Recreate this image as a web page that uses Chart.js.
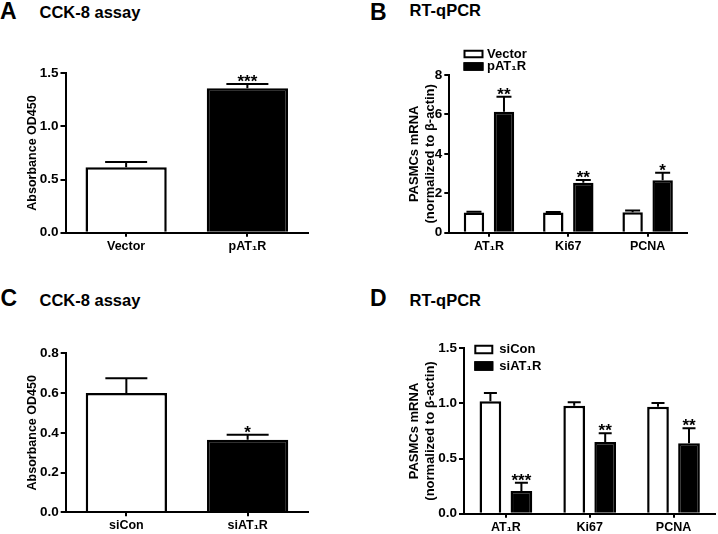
<!DOCTYPE html>
<html><head><meta charset="utf-8">
<script src="https://cdn.jsdelivr.net/npm/chart.js@4"></script>
<style>
html,body{margin:0;padding:0;background:#fff;}
body{width:718px;height:534px;position:relative;overflow:hidden;font-family:'Liberation Sans',Arial,sans-serif;}
canvas{position:absolute;}
.lbl{position:absolute;font-weight:bold;line-height:1;white-space:nowrap;color:#000;font-family:'Liberation Sans',Arial,sans-serif;}
</style></head><body>
<div class="lbl" style="left:0px;top:0px;font-size:23px">A</div>
<div class="lbl" style="left:39.5px;top:4.3px;font-size:16.5px">CCK-8 assay</div>
<div class="lbl" style="left:370px;top:0.5px;font-size:23px">B</div>
<div class="lbl" style="left:409.5px;top:2px;font-size:16.5px">RT-qPCR</div>
<div class="lbl" style="left:0.5px;top:286.8px;font-size:23px">C</div>
<div class="lbl" style="left:39.5px;top:292.3px;font-size:16.5px">CCK-8 assay</div>
<div class="lbl" style="left:370px;top:286.8px;font-size:23px">D</div>
<div class="lbl" style="left:409.5px;top:292.3px;font-size:16.5px">RT-qPCR</div>

<canvas id="cA" width="330" height="267" style="left:0px;top:0px"></canvas>
<canvas id="cB" width="358" height="267" style="left:360px;top:0px"></canvas>
<canvas id="cC" width="330" height="267" style="left:0px;top:267px"></canvas>
<canvas id="cD" width="358" height="267" style="left:360px;top:267px"></canvas>

<script>
// ---------- data ----------
const catsA = ['Vector', 'pAT\u2081R'];
const meanA = [0.615, 1.36];
const semA = [0.05, 0.04];
const sigA = ['', '***'];
const ticksA = [0, 0.5, 1.0, 1.5];

const catsB = ['AT\u2081R', 'Ki67', 'PCNA'];
const seriesB = ['Vector', 'pAT\u2081R'];
const vectorB = [1.03, 1.02, 1.04];
const vectorSemB = [0.03, 0.03, 0.08];
const pat1rB = [6.14, 2.54, 2.66];
const pat1rSemB = [0.76, 0.13, 0.38];
const sigB = ['**', '**', '*'];
const ticksB = [0, 2, 4, 6, 8];

const catsC = ['siCon', 'siAT\u2081R'];
const meanC = [0.60, 0.365];
const semC = [0.075, 0.025];
const sigC = ['', '*'];
const ticksC = [0, 0.2, 0.4, 0.6, 0.8];

const catsD = ['AT\u2081R', 'Ki67', 'PCNA'];
const seriesD = ['siCon', 'siAT\u2081R'];
const siConD = [1.02, 0.98, 0.97];
const siConSemD = [0.075, 0.03, 0.035];
const siAT1RD = [0.205, 0.65, 0.64];
const siAT1RSemD = [0.075, 0.08, 0.135];
const sigD = ['***', '**', '**'];
const ticksD = [0, 0.5, 1.0, 1.5];

const yTitleA = 'Absorbance OD450';
const yTitleB = ['PASMCs mRNA', '(normalized to \u03b2-actin)'];

// ---------- styling ----------
const FONT = "'Liberation Sans', Arial, sans-serif";
Chart.defaults.font.family = FONT;
Chart.defaults.font.weight = 'bold';
Chart.defaults.color = '#000';

const errorBarPlugin = {
  id: 'errorBars',
  afterDatasetsDraw(chart, args, o) {
    const ctx = chart.ctx, ys = chart.scales.y;
    chart.data.datasets.forEach((ds, di) => {
      if (!ds.err) return;
      const meta = chart.getDatasetMeta(di);
      meta.data.forEach((bar, i) => {
        const v = ds.data[i], e = ds.err[i];
        const yTop = ys.getPixelForValue(v);
        const yErr = ys.getPixelForValue(v + e);
        const cw = o.capWidth;
        ctx.save();
        ctx.strokeStyle = '#000';
        ctx.lineWidth = 2;
        ctx.beginPath();
        ctx.moveTo(bar.x, yTop); ctx.lineTo(bar.x, yErr);
        ctx.moveTo(bar.x - cw / 2, yErr); ctx.lineTo(bar.x + cw / 2, yErr);
        ctx.stroke();
        if (ds.sig && ds.sig[i]) {
          ctx.fillStyle = '#000';
          ctx.font = 'bold ' + o.starSize + 'px ' + FONT;
          ctx.textAlign = 'center';
          ctx.textBaseline = 'alphabetic';
          ctx.fillText(ds.sig[i], bar.x, yErr + o.starOffset);
        }
        ctx.restore();
      });
    });
  }
};

const boxLegendPlugin = {
  id: 'boxLegend',
  afterDraw(chart, args, o) {
    if (!o || !o.display) return;
    const ctx = chart.ctx;
    chart.data.datasets.forEach((ds, i) => {
      const cy = o.y + i * o.rowH;
      ctx.save();
      ctx.fillStyle = ds.backgroundColor;
      ctx.fillRect(o.x, cy - o.boxH / 2, o.boxW, o.boxH);
      ctx.lineWidth = 2;
      ctx.strokeStyle = '#000';
      ctx.strokeRect(o.x + 1, cy - o.boxH / 2 + 1, o.boxW - 2, o.boxH - 2);
      ctx.fillStyle = '#000';
      ctx.font = 'bold ' + o.fontSize + 'px ' + FONT;
      ctx.textAlign = 'left';
      ctx.textBaseline = 'middle';
      ctx.fillText(ds.label, o.x + o.boxW + o.gap, cy);
      ctx.restore();
    });
  }
};

function yScale(ticks, decimals, title, titleSize, titlePad, width) {
  return {
    type: 'linear',
    min: ticks[0], max: ticks[ticks.length - 1],
    afterBuildTicks: s => { s.ticks = ticks.map(v => ({ value: v })); },
    ticks: { color: '#000', font: { size: 13.5, weight: 'bold' }, padding: 2,
             callback: v => Number(v).toFixed(decimals) },
    grid: { display: true, drawOnChartArea: false, drawTicks: true, tickLength: 5, color: '#000', lineWidth: 2 },
    border: { display: true, color: '#000', width: 2 },
    title: { display: true, text: title, color: '#000', font: { size: titleSize, weight: 'bold' },
             padding: { top: titlePad, bottom: 0 } },
    afterFit: s => { s.width = width; }
  };
}
function xScale(height) {
  return {
    type: 'category',
    ticks: { color: '#000', font: { size: 12.5, weight: 'bold' }, padding: 2, maxRotation: 0, autoSkip: false },
    grid: { display: true, offset: false, drawOnChartArea: false, drawTicks: true, tickLength: 4, color: '#000', lineWidth: 2 },
    border: { display: true, color: '#000', width: 2, z: 1 },
    afterFit: s => { s.height = height; }
  };
}
function baseOptions(pad, yS, xS, err, legend) {
  return {
    responsive: false, animation: false, devicePixelRatio: 1,
    layout: { padding: pad },
    plugins: { legend: { display: false }, tooltip: { enabled: false },
               errorBars: err, boxLegend: legend || { display: false } },
    scales: { x: xS, y: yS }
  };
}

// Panel A
new Chart(document.getElementById('cA'), {
  type: 'bar',
  data: { labels: catsA, datasets: [{
    data: meanA, err: semA, sig: sigA,
    backgroundColor: ['#ffffff', '#000000'], borderColor: '#000', borderWidth: 2.5,
    barPercentage: 0.67, categoryPercentage: 1
  }]},
  options: baseOptions({ top: 73.3, right: 22, left: 0, bottom: 0 },
    yScale(ticksA, 1, yTitleA, 12.5, 25.5, 65.5), xScale(34.3),
    { capWidth: 42, starSize: 17, starOffset: 3 }),
  plugins: [errorBarPlugin, boxLegendPlugin]
});

// Panel B
new Chart(document.getElementById('cB'), {
  type: 'bar',
  data: { labels: catsB, datasets: [
    { label: seriesB[0], data: vectorB, err: vectorSemB, backgroundColor: '#ffffff', borderColor: '#000', borderWidth: 2.5,
      barPercentage: 0.68, categoryPercentage: 0.757 },
    { label: seriesB[1], data: pat1rB, err: pat1rSemB, sig: sigB, backgroundColor: '#000000', borderColor: '#000', borderWidth: 2.5,
      barPercentage: 0.68, categoryPercentage: 0.757 }
  ]},
  options: baseOptions({ top: 75, right: 30.7, left: 0, bottom: 0 },
    yScale(ticksB, 0, yTitleB, 13, 47, 89.3), xScale(34.3),
    { capWidth: 15, starSize: 17, starOffset: 3 },
    { display: true, x: 103.5, y: 54, rowH: 12.5, boxW: 20, boxH: 8.5, gap: 3.5, fontSize: 13 }),
  plugins: [errorBarPlugin, boxLegendPlugin]
});

// Panel C
new Chart(document.getElementById('cC'), {
  type: 'bar',
  data: { labels: catsC, datasets: [{
    data: meanC, err: semC, sig: sigC,
    backgroundColor: ['#ffffff', '#000000'], borderColor: '#000', borderWidth: 2.5,
    barPercentage: 0.67, categoryPercentage: 1
  }]},
  options: baseOptions({ top: 86.3, right: 21.7, left: 0, bottom: 0 },
    yScale(ticksC, 1, yTitleA, 12.5, 25.5, 65.7), xScale(21.7),
    { capWidth: 42, starSize: 17, starOffset: 3 }),
  plugins: [errorBarPlugin, boxLegendPlugin]
});

// Panel D
new Chart(document.getElementById('cD'), {
  type: 'bar',
  data: { labels: catsD, datasets: [
    { label: seriesD[0], data: siConD, err: siConSemD, backgroundColor: '#ffffff', borderColor: '#000', borderWidth: 2.5,
      barPercentage: 0.70, categoryPercentage: 0.74 },
    { label: seriesD[1], data: siAT1RD, err: siAT1RSemD, sig: sigD, backgroundColor: '#000000', borderColor: '#000', borderWidth: 2.5,
      barPercentage: 0.70, categoryPercentage: 0.74 }
  ]},
  options: baseOptions({ top: 81.3, right: 2.6, left: 0, bottom: 0 },
    yScale(ticksD, 1, yTitleB, 13, 47, 104), xScale(20.3),
    { capWidth: 13, starSize: 17, starOffset: 3 },
    { display: true, x: 114.3, y: 82.5, rowH: 16.5, boxW: 19, boxH: 9.5, gap: 6, fontSize: 13 }),
  plugins: [errorBarPlugin, boxLegendPlugin]
});
</script>
</body></html>
